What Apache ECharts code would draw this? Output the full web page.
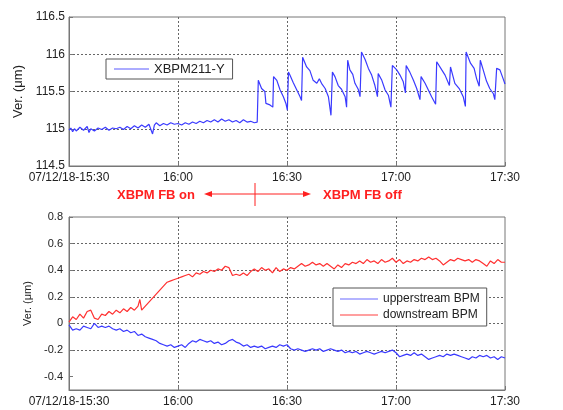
<!DOCTYPE html>
<html><head><meta charset="utf-8">
<script src="https://cdn.jsdelivr.net/npm/echarts@6/dist/echarts.min.js"></script>
<style>html,body{margin:0;padding:0;background:#fff}#c{width:563px;height:410px}</style>
</head><body><div id="c"></div>
<script>
// x values are minutes after 07/12/18-15:30
const xTickLabels = ['07/12/18-15:30','16:00','16:30','17:00','17:30'];
const topYTicks = [114.5,115,115.5,116,116.5];
const bottomYTicks = [-0.4,-0.2,0,0.2,0.4,0.6,0.8];

const xbpmY = [
[0,114.98],[0.5,115.01],[1,114.96],[1.5,115.0],[2,114.97],[3,115.02],[4,114.98],[5,115.03],[5.5,114.95],[6,115.0],[7,114.97],[8,115.01],[9,114.99],[10,115.02],[11,114.98],[12,115.01],[13,115.0],[14,115.02],[15,114.99],[16,115.03],[17,115.0],[18,115.04],[19,115.01],[20,115.05],[21,115.02],[22,115.06],[23,114.93],[23.5,115.05],[24,115.08],[25,115.04],[26,115.07],[27,115.05],[28,115.08],[29,115.06],[30,115.07],[31,115.05],[32,115.08],[33,115.06],[34,115.09],[35,115.07],[36,115.1],[37,115.08],[38,115.11],[39,115.09],[40,115.12],[41,115.09],[42,115.13],[43,115.1],[44,115.12],[45,115.09],[46,115.11],[47,115.08],[48,115.12],[49,115.09],[50,115.1],[51,115.08],[51.8,115.09],
[52.1,115.65],[53.0,115.54],[53.9,115.50],[54.2,115.34],[55.3,115.32],[56.1,115.29],[56.3,115.70],[57.2,115.65],[58.1,115.52],[59.0,115.43],[59.7,115.34],[60.1,115.25],[60.4,115.76],[60.8,115.72],[61.7,115.62],[62.7,115.52],[63.6,115.43],[64.0,115.38],[64.3,115.96],[65.4,115.83],[66.3,115.78],[67.2,115.65],[68.2,115.61],[68.9,115.67],[69.5,115.61],[70.5,115.54],[71.4,115.43],[72.1,115.18],[72.5,115.76],[73.2,115.70],[74.1,115.58],[75.0,115.53],[76.0,115.43],[76.4,115.29],[76.7,115.92],[77.3,115.79],[78.1,115.73],[78.7,115.61],[79.6,115.53],[80.1,115.43],[80.5,116.03],[81.5,115.93],[82.4,115.81],[83.3,115.72],[84.2,115.58],[84.9,115.43],[85.1,115.74],[86.1,115.65],[87.0,115.52],[87.9,115.45],[88.6,115.29],[89.0,115.85],[90.2,115.79],[91.1,115.72],[92.0,115.63],[92.6,115.48],[92.8,115.85],[93.8,115.76],[94.8,115.65],[95.7,115.54],[96.6,115.39],[96.9,115.70],[98.0,115.61],[98.9,115.52],[99.8,115.43],[100.9,115.33],[101.2,115.90],[102.6,115.79],[103.5,115.72],[104.7,115.58],[105.0,115.83],[106.2,115.61],[107.4,115.54],[108.5,115.43],[109.1,115.30],[109.3,116.03],[110.5,115.88],[111.5,115.81],[112.2,115.67],[112.9,115.57],[113.2,115.92],[114.0,115.79],[114.9,115.64],[115.8,115.54],[116.8,115.47],[117.2,115.39],[117.7,115.81],[118.6,115.79],[119.5,115.67],[120,115.60]
];

const downstream = [
[0,0.01],[1,0.05],[2,0.03],[3,0.07],[4,0.04],[5,0.09],[6,0.10],[7,0.04],[8,0.03],[9,0.07],[10,0.06],[11,0.09],[12,0.07],[13,0.10],[14,0.08],[15,0.11],[16,0.09],[17,0.12],[18,0.10],[19,0.13],[19.5,0.18],[20,0.10],[21,0.13],[22,0.16],[23,0.19],[24,0.22],[25,0.25],[26,0.28],[27,0.31],[28,0.32],[29,0.33],[30,0.34],[31,0.35],[32,0.36],[33,0.37],[34,0.35],[35,0.38],[36,0.37],[37,0.39],[38,0.38],[39,0.40],[40,0.39],[41,0.41],[42,0.40],[43,0.43],[44,0.42],[45,0.36],[46,0.37],[47,0.36],[48,0.38],[49,0.36],[50,0.39],[51,0.41],[52,0.39],[53,0.42],[54,0.40],[55,0.41],[56,0.38],[57,0.42],[58,0.39],[59,0.41],[60,0.40],[61,0.42],[62,0.41],[63,0.43],[64,0.45],[65,0.43],[66,0.44],[67,0.46],[68,0.44],[69,0.45],[70,0.43],[71,0.45],[72,0.43],[73,0.41],[74,0.44],[75,0.42],[76,0.45],[77,0.44],[78,0.46],[79,0.45],[80,0.47],[81,0.45],[82,0.48],[83,0.46],[84,0.47],[85,0.45],[86,0.48],[87,0.46],[88,0.47],[89,0.49],[90,0.46],[91,0.48],[92,0.45],[93,0.47],[94,0.46],[95,0.48],[96,0.47],[97,0.49],[98,0.48],[99,0.50],[100,0.48],[101,0.49],[102,0.47],[103,0.44],[104,0.46],[105,0.48],[106,0.47],[107,0.49],[108,0.48],[109,0.47],[110,0.48],[111,0.46],[112,0.48],[113,0.47],[114,0.45],[115,0.43],[116,0.47],[117,0.45],[118,0.48],[119,0.46],[120,0.46]
];

const upstream = [
[0,-0.01],[1,-0.05],[2,-0.04],[3,-0.05],[4,-0.02],[5,-0.03],[6,-0.04],[7,0.0],[8,-0.03],[9,-0.02],[10,-0.03],[11,-0.02],[12,-0.04],[13,-0.05],[14,-0.04],[15,-0.06],[16,-0.05],[17,-0.07],[18,-0.06],[19,-0.09],[20,-0.08],[21,-0.10],[22,-0.11],[23,-0.12],[24,-0.13],[25,-0.15],[26,-0.16],[27,-0.17],[28,-0.16],[29,-0.18],[30,-0.17],[31,-0.16],[32,-0.18],[33,-0.15],[34,-0.13],[35,-0.14],[36,-0.12],[37,-0.13],[38,-0.14],[39,-0.13],[40,-0.15],[41,-0.14],[42,-0.16],[43,-0.15],[44,-0.13],[45,-0.12],[46,-0.14],[47,-0.15],[48,-0.17],[49,-0.16],[50,-0.18],[51,-0.17],[52,-0.18],[53,-0.17],[54,-0.19],[55,-0.18],[56,-0.17],[57,-0.18],[58,-0.16],[59,-0.17],[60,-0.16],[61,-0.19],[62,-0.20],[63,-0.19],[64,-0.20],[65,-0.21],[66,-0.20],[67,-0.19],[68,-0.20],[69,-0.19],[70,-0.21],[71,-0.20],[72,-0.19],[73,-0.20],[74,-0.21],[75,-0.20],[76,-0.22],[77,-0.21],[78,-0.22],[79,-0.21],[80,-0.23],[81,-0.22],[82,-0.21],[83,-0.22],[84,-0.23],[85,-0.22],[86,-0.21],[87,-0.22],[88,-0.21],[89,-0.20],[90,-0.22],[91,-0.25],[92,-0.24],[93,-0.23],[94,-0.24],[95,-0.22],[96,-0.24],[97,-0.23],[98,-0.25],[99,-0.27],[100,-0.26],[101,-0.25],[102,-0.24],[103,-0.25],[104,-0.23],[105,-0.24],[106,-0.23],[107,-0.24],[108,-0.25],[109,-0.26],[110,-0.27],[111,-0.25],[112,-0.26],[113,-0.24],[114,-0.25],[115,-0.24],[116,-0.26],[117,-0.25],[118,-0.27],[119,-0.25],[120,-0.26]
];

const FONT = 'Liberation Sans, Arial, sans-serif';
const gridLine = {show:true, lineStyle:{color:'#666', type:[2,2], width:1}};
function xAxisFor(gi){
  return {type:'value', gridIndex:gi, min:0, max:120, interval:30,
    axisLine:{show:true, onZero:false, lineStyle:{color:'#777'}},
    axisTick:{inside:true, length:4, lineStyle:{color:'#777'}},
    splitLine:Object.assign({showMinLine:false, showMaxLine:false}, gridLine),
    axisLabel:{color:'#222', fontFamily:FONT, fontSize:12, margin:6,
      formatter:v=>xTickLabels[Math.round(v/30)]}};
}
const chart = echarts.init(document.getElementById('c'), null, {renderer:'canvas'});
chart.setOption({
  animation:false,
  grid:[
    {left:69, right:58, top:17, height:149, show:true, borderColor:'#777', borderWidth:1, containLabel:false},
    {left:69, right:58, top:217, height:173, show:true, borderColor:'#777', borderWidth:1, containLabel:false}
  ],
  xAxis:[xAxisFor(0), xAxisFor(1)],
  yAxis:[
    {type:'value', gridIndex:0, min:topYTicks[0], max:topYTicks[topYTicks.length-1], interval:0.5,
     name:'Ver. (\u03bcm)', nameLocation:'middle', nameGap:44, nameTextStyle:{fontFamily:FONT, fontSize:13, color:'#222'},
     axisLine:{show:true, onZero:false, lineStyle:{color:'#777'}},
     axisTick:{inside:true, length:4, lineStyle:{color:'#777'}},
     splitLine:Object.assign({showMinLine:false, showMaxLine:false}, gridLine),
     axisLabel:{color:'#222', fontFamily:FONT, fontSize:12, margin:4}},
    {type:'value', gridIndex:1, min:-0.5, max:0.8,
     name:'Ver. (\u03bcm)', nameLocation:'middle', nameGap:34, nameTextStyle:{fontFamily:FONT, fontSize:11, color:'#222'},
     axisLine:{show:true, onZero:false, lineStyle:{color:'#777'}},
     axisTick:{inside:true, length:4, lineStyle:{color:'#777'}, customValues:bottomYTicks},
     splitLine:Object.assign({showMinLine:false, showMaxLine:false}, gridLine),
     axisLabel:{color:'#222', fontFamily:FONT, fontSize:11, margin:6, customValues:bottomYTicks,
       formatter:v=> (Math.abs(v)<1e-9 ? '0' : v.toFixed(1))}}
  ],
  legend:[
    {data:['XBPM211-Y'], left:106, top:59, orient:'horizontal', padding:[3,8,3,8], icon:'rect',
     itemWidth:35, itemHeight:1, itemGap:5, backgroundColor:'#fff', borderColor:'#555', borderWidth:1,
     textStyle:{fontFamily:FONT, fontSize:13, color:'#222', lineHeight:14}},
    {data:['upperstream BPM','downstream BPM'], left:333, top:288, orient:'vertical', padding:[5,7,5,7], icon:'rect',
     itemWidth:38, itemHeight:1, itemGap:4, backgroundColor:'#fff', borderColor:'#555', borderWidth:1,
     textStyle:{fontFamily:FONT, fontSize:12, color:'#222', lineHeight:12}}
  ],
  series:[
    {name:'XBPM211-Y', type:'line', xAxisIndex:0, yAxisIndex:0, data:xbpmY, showSymbol:false, symbol:'none',
     lineStyle:{color:'#3a3aff', width:1.2}, itemStyle:{color:'#5a5aff'}},
    {name:'upperstream BPM', type:'line', xAxisIndex:1, yAxisIndex:1, data:upstream, showSymbol:false, symbol:'none',
     lineStyle:{color:'#3a3aff', width:1.2}, itemStyle:{color:'#6a6aff'}},
    {name:'downstream BPM', type:'line', xAxisIndex:1, yAxisIndex:1, data:downstream, showSymbol:false, symbol:'none',
     lineStyle:{color:'#ff3030', width:1.2}, itemStyle:{color:'#ff4040'}}
  ],
  graphic:[
    {type:'text', left:117, top:189, style:{text:'XBPM FB on', fill:'#ff2020', font:'bold 13px Liberation Sans, Arial, sans-serif'}},
    {type:'text', left:323, top:189, style:{text:'XBPM FB off', fill:'#ff2020', font:'bold 13px Liberation Sans, Arial, sans-serif'}},
    {type:'line', shape:{x1:255, y1:183, x2:255, y2:206}, style:{stroke:'#ff2020', lineWidth:1}},
    {type:'line', shape:{x1:210, y1:194, x2:305, y2:194}, style:{stroke:'#ff2020', lineWidth:1}},
    {type:'polygon', shape:{points:[[204,194],[212,191],[212,197]]}, style:{fill:'#ff2020'}},
    {type:'polygon', shape:{points:[[311,194],[303,191],[303,197]]}, style:{fill:'#ff2020'}}
  ]
});
</script></body></html>
